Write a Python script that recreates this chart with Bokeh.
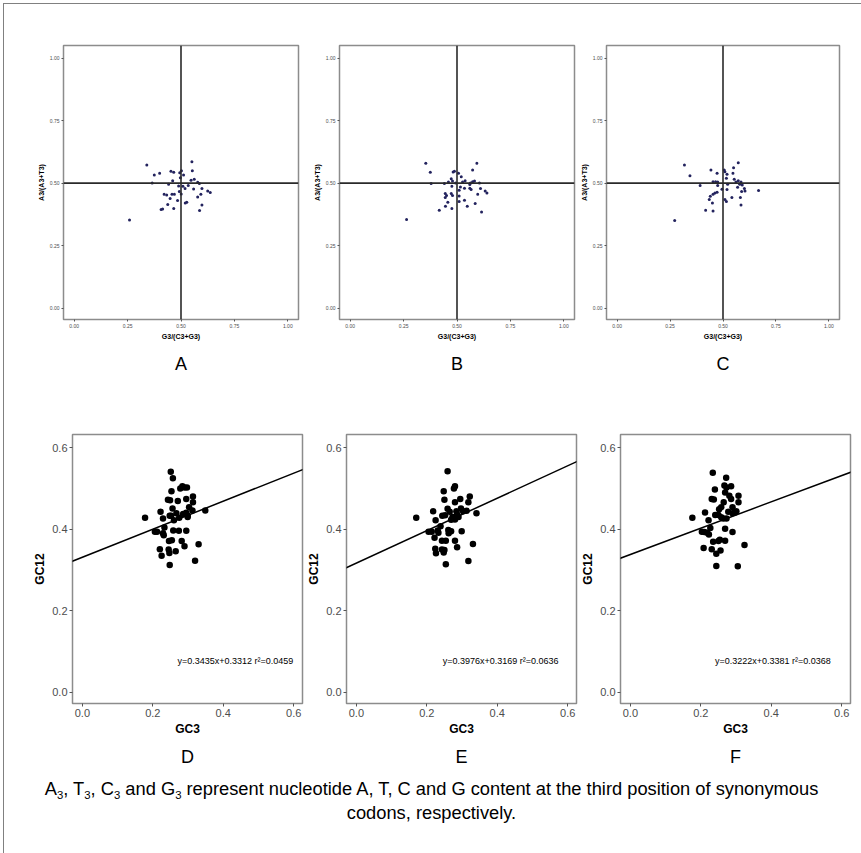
from bokeh.plotting import figure
from bokeh.layouts import row, column
from bokeh.models import Span, Slope, Label, Title, FixedTicker, Div, Range1d
from bokeh.embed import file_html
from bokeh.resources import INLINE

FONT = "Liberation Sans"

# ---------------- data ----------------
pr2_ticks = [0.0, 0.25, 0.5, 0.75, 1.0]
pr2_tick_labels = ["0.00", "0.25", "0.50", "0.75", "1.00"]
pr2_x_title = "G3/(C3+G3)"
pr2_y_title = "A3/(A3+T3)"

a_g3 = [0.340, 0.259, 0.375, 0.400, 0.365, 0.453, 0.466, 0.494, 0.502, 0.551, 0.553, 0.512, 0.497, 0.461, 0.442,
        0.489, 0.519, 0.534, 0.547, 0.562, 0.578, 0.586, 0.559, 0.598, 0.625, 0.637, 0.593, 0.578, 0.421, 0.433,
        0.458, 0.469, 0.501, 0.449, 0.484, 0.438, 0.407, 0.414, 0.466, 0.520, 0.527, 0.598, 0.587, 0.492, 0.509]
a_a3 = [0.572, 0.353, 0.532, 0.539, 0.501, 0.547, 0.543, 0.541, 0.549, 0.585, 0.549, 0.532, 0.521, 0.509, 0.496,
        0.489, 0.479, 0.491, 0.511, 0.515, 0.503, 0.499, 0.477, 0.479, 0.469, 0.463, 0.456, 0.445, 0.456, 0.453,
        0.456, 0.456, 0.457, 0.439, 0.431, 0.415, 0.395, 0.397, 0.399, 0.421, 0.424, 0.413, 0.391, 0.467, 0.488]

b_g3 = [0.354, 0.264, 0.375, 0.379, 0.441, 0.593, 0.573, 0.482, 0.488, 0.507, 0.520, 0.473, 0.460, 0.479, 0.494,
        0.526, 0.538, 0.563, 0.573, 0.582, 0.560, 0.605, 0.476, 0.516, 0.535, 0.560, 0.566, 0.610, 0.632, 0.640,
        0.597, 0.445, 0.451, 0.445, 0.473, 0.479, 0.510, 0.457, 0.535, 0.510, 0.585, 0.548, 0.446, 0.417, 0.476,
        0.615, 0.510]
b_a3 = [0.579, 0.355, 0.543, 0.499, 0.499, 0.579, 0.552, 0.544, 0.547, 0.539, 0.525, 0.517, 0.504, 0.508, 0.501,
        0.504, 0.509, 0.501, 0.505, 0.508, 0.495, 0.501, 0.488, 0.485, 0.480, 0.480, 0.475, 0.479, 0.469, 0.461,
        0.456, 0.459, 0.451, 0.443, 0.459, 0.451, 0.449, 0.424, 0.432, 0.427, 0.419, 0.408, 0.408, 0.392, 0.399,
        0.385, 0.472]

c_g3 = [0.318, 0.344, 0.272, 0.392, 0.443, 0.472, 0.453, 0.465, 0.475, 0.506, 0.509, 0.519, 0.516, 0.550, 0.572,
        0.547, 0.553, 0.561, 0.572, 0.585, 0.579, 0.591, 0.601, 0.604, 0.588, 0.569, 0.522, 0.495, 0.519, 0.542,
        0.582, 0.585, 0.462, 0.472, 0.453, 0.440, 0.435, 0.450, 0.509, 0.516, 0.418, 0.453, 0.668, 0.475]
c_a3 = [0.572, 0.529, 0.351, 0.491, 0.552, 0.539, 0.505, 0.505, 0.504, 0.552, 0.545, 0.535, 0.519, 0.561, 0.581,
        0.539, 0.515, 0.504, 0.509, 0.504, 0.496, 0.493, 0.479, 0.469, 0.467, 0.484, 0.496, 0.476, 0.475, 0.443,
        0.443, 0.413, 0.461, 0.464, 0.456, 0.448, 0.435, 0.421, 0.435, 0.427, 0.392, 0.389, 0.471, 0.491]

nc_ticks = [0.0, 0.2, 0.4, 0.6]
nc_tick_labels = ["0.0", "0.2", "0.4", "0.6"]
nc_x_title = "GC3"
nc_y_title = "GC12"

d_gc3 = [0.178, 0.251, 0.257, 0.253, 0.278, 0.284, 0.290, 0.297, 0.243, 0.249, 0.271, 0.295, 0.314, 0.314, 0.256,
         0.303, 0.222, 0.248, 0.252, 0.267, 0.286, 0.295, 0.299, 0.3125, 0.349, 0.229, 0.275, 0.260, 0.299, 0.233,
         0.206, 0.212, 0.229, 0.231, 0.258, 0.274, 0.295, 0.246, 0.254, 0.282, 0.290, 0.330, 0.220, 0.245, 0.247,
         0.265, 0.225, 0.248, 0.320]
d_gc12 = [0.428, 0.541, 0.525, 0.493, 0.500, 0.505, 0.502, 0.502, 0.472, 0.471, 0.469, 0.474, 0.480, 0.466, 0.451,
          0.454, 0.443, 0.433, 0.433, 0.439, 0.437, 0.440, 0.433, 0.446, 0.446, 0.426, 0.428, 0.422, 0.430, 0.404,
          0.394, 0.394, 0.390, 0.385, 0.397, 0.396, 0.396, 0.371, 0.373, 0.371, 0.358, 0.363, 0.351, 0.350, 0.342,
          0.346, 0.335, 0.312, 0.323]

e_gc3 = [0.259, 0.280, 0.248, 0.322, 0.250, 0.280, 0.295, 0.318, 0.218, 0.259, 0.265, 0.284, 0.297, 0.303, 0.313,
         0.341, 0.244, 0.252, 0.273, 0.286, 0.290, 0.170, 0.225, 0.269, 0.280, 0.239, 0.205, 0.214, 0.231, 0.233,
         0.261, 0.269, 0.299, 0.222, 0.243, 0.254, 0.280, 0.331, 0.286, 0.224, 0.243, 0.250, 0.226, 0.248, 0.254,
         0.318, 0.277, 0.262]
e_gc12 = [0.542, 0.505, 0.493, 0.480, 0.472, 0.466, 0.474, 0.466, 0.444, 0.450, 0.443, 0.444, 0.451, 0.444, 0.445,
          0.439, 0.433, 0.434, 0.430, 0.436, 0.430, 0.428, 0.422, 0.423, 0.424, 0.407, 0.394, 0.394, 0.397, 0.391,
          0.398, 0.395, 0.395, 0.379, 0.372, 0.372, 0.372, 0.364, 0.356, 0.352, 0.350, 0.349, 0.341, 0.343, 0.314,
          0.322, 0.500, 0.390]

f_gc3 = [0.234, 0.272, 0.267, 0.273, 0.286, 0.240, 0.269, 0.231, 0.237, 0.281, 0.286, 0.307, 0.307, 0.265, 0.252,
         0.258, 0.290, 0.278, 0.290, 0.297, 0.301, 0.212, 0.241, 0.250, 0.258, 0.264, 0.273, 0.176, 0.222, 0.203,
         0.210, 0.218, 0.223, 0.227, 0.269, 0.290, 0.235, 0.250, 0.254, 0.269, 0.324, 0.208, 0.231, 0.256, 0.244,
         0.244, 0.305]
f_gc12 = [0.538, 0.526, 0.507, 0.502, 0.505, 0.497, 0.490, 0.474, 0.473, 0.482, 0.474, 0.482, 0.466, 0.466, 0.449,
          0.454, 0.454, 0.443, 0.439, 0.441, 0.444, 0.441, 0.435, 0.435, 0.429, 0.426, 0.426, 0.428, 0.422, 0.394,
          0.393, 0.391, 0.387, 0.403, 0.401, 0.393, 0.369, 0.371, 0.374, 0.372, 0.361, 0.354, 0.351, 0.348, 0.340,
          0.310, 0.309]

d_slope, d_intercept, d_r2 = 0.3435, 0.3312, 0.0459
e_slope, e_intercept, e_r2 = 0.3976, 0.3169, 0.0636
f_slope, f_intercept, f_r2 = 0.3222, 0.3381, 0.0368
eq_x = [0.27, 0.245, 0.24]
eq_y = 0.078

panel_letters = ["A", "B", "C", "D", "E", "F"]
SUB = '<span style="font-size:0.62em;vertical-align:-0.35em;line-height:0">3</span>'
caption_html = ('<div style="margin-right:8px">'
                f"A{SUB}, T{SUB}, C{SUB} and G{SUB} represent nucleotide A, T, C and G "
                "content at the third position of synonymous<br>codons, respectively.</div>")


def add_letter(p, letter, standoff):
    p.add_layout(Title(text=letter, align="center", text_font=FONT, text_font_size="18px",
                       text_font_style="normal", text_color="black", standoff=standoff), "below")


def style_axes(p, tick_size, title_size, ticks, labels, tick_len, standoff):
    for ax in (p.xaxis[0], p.yaxis[0]):
        ax.ticker = FixedTicker(ticks=ticks)
        ax.major_label_overrides = {t: l for t, l in zip(ticks, labels)}
        ax.axis_line_color = None
        ax.major_tick_line_color = "#555555"
        ax.major_tick_in = 0
        ax.major_tick_out = tick_len
        ax.minor_tick_line_color = None
        ax.major_label_text_font = FONT
        ax.major_label_text_font_size = tick_size
        ax.major_label_text_color = "#4d4d4d"
        ax.major_label_standoff = 2
        ax.axis_label_text_font = FONT
        ax.axis_label_text_font_size = title_size
        ax.axis_label_text_font_style = "bold"
        ax.axis_label_text_color = "black"
        ax.axis_label_standoff = standoff
    p.grid.visible = False
    p.outline_line_color = "#8c8c8c"
    p.outline_line_width = 1.5


def pr2_panel(xs, ys, letter, left, right, fw):
    p = figure(frame_width=fw, frame_height=274, x_range=Range1d(-0.05, 1.05), y_range=Range1d(-0.045, 1.05),
               min_border_left=left, min_border_right=right, min_border_top=41, min_border_bottom=71,
               x_axis_label=pr2_x_title, y_axis_label=pr2_y_title, title=None,
               output_backend="svg", toolbar_location=None)
    style_axes(p, "5px", "7px", pr2_ticks, pr2_tick_labels, 2, 2)
    p.add_layout(Span(location=0.5, dimension="height", line_color="#2a2a2a", line_width=1.6))
    p.add_layout(Span(location=0.5, dimension="width", line_color="#2a2a2a", line_width=1.6))
    p.scatter(xs, ys, size=3, color="#23235e", line_width=0)
    add_letter(p, letter, 18)
    return p


def nc_panel(xs, ys, slope, intercept, r2, ex, letter, left, right):
    p = figure(frame_width=230, frame_height=269, x_range=Range1d(-0.028, 0.625), y_range=Range1d(-0.027, 0.632),
               min_border_left=left, min_border_right=right, min_border_top=44, min_border_bottom=67,
               x_axis_label=nc_x_title, y_axis_label=nc_y_title, title=None,
               output_backend="svg", toolbar_location=None)
    style_axes(p, "11px", "12px", nc_ticks, nc_tick_labels, 3, 2)
    p.scatter(xs, ys, size=6.5, color="black", line_width=0)
    p.add_layout(Slope(gradient=slope, y_intercept=intercept, line_color="black", line_width=1.5))
    p.add_layout(Label(x=ex, y=eq_y, text=f"y=0.{str(slope)[2:]:0<4}x+{intercept:.4f}  r\u00b2={r2:.4f}",
                       text_font=FONT, text_font_size="9px", text_color="black", text_baseline="middle"))
    add_letter(p, letter, 12)
    return p


pa = pr2_panel(a_g3, a_a3, panel_letters[0], 59, 2, 235)
pb = pr2_panel(b_g3, b_a3, panel_letters[1], 39, 2, 235)
pc = pr2_panel(c_g3, c_a3, panel_letters[2], 30, 4, 233)

pd = nc_panel(d_gc3, d_gc12, d_slope, d_intercept, d_r2, eq_x[0], panel_letters[3], 68, 2)
pe = nc_panel(e_gc3, e_gc12, e_slope, e_intercept, e_r2, eq_x[1], panel_letters[4], 41, 2)
pf = nc_panel(f_gc3, f_gc12, f_slope, f_intercept, f_r2, eq_x[2], panel_letters[5], 35, 4)

caption = Div(text=caption_html, width=853, height=75,
              styles={"text-align": "center", "font-family": FONT, "font-size": "18.3px",
                      "line-height": "24px", "color": "black"})

layout = column(row(pa, pb, pc), row(pd, pe, pf), caption,
                styles={"border": "1px solid #808080", "margin": "3px 0 0 3px"})

open("out.html", "w").write(file_html(layout, INLINE))
